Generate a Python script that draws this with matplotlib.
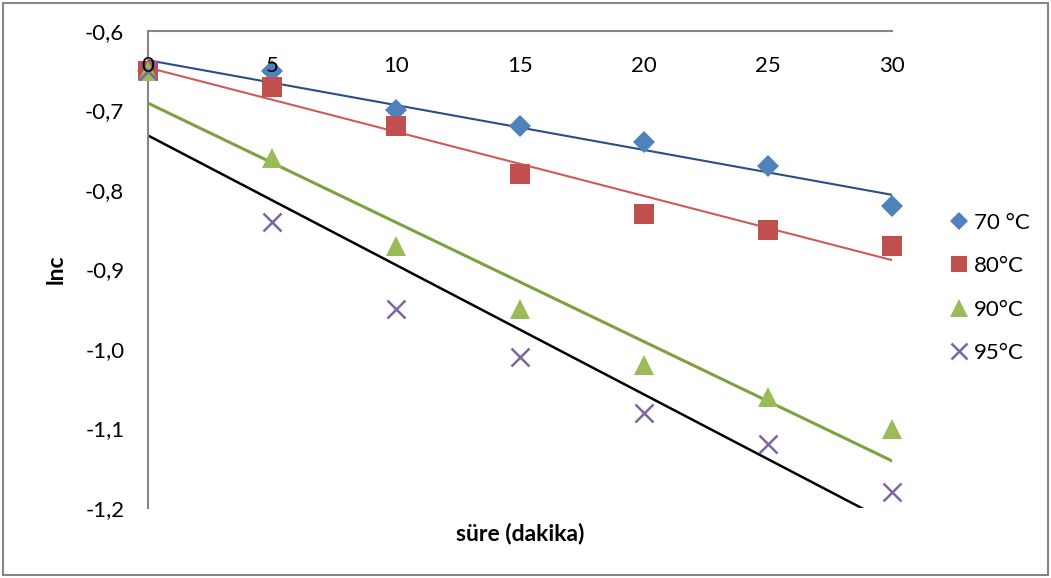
import numpy as np
import matplotlib
matplotlib.use("Agg")
import matplotlib.pyplot as plt
from matplotlib.patches import Rectangle

plt.rcParams['font.family'] = ['Lato', 'DejaVu Sans']

sure = [0, 5, 10, 15, 20, 25, 30]
lnc_70 = [-0.65, -0.65, -0.70, -0.72, -0.74, -0.77, -0.82]
lnc_80 = [-0.65, -0.67, -0.72, -0.78, -0.83, -0.85, -0.87]
lnc_90 = [-0.65, -0.76, -0.87, -0.95, -1.02, -1.06, -1.10]
lnc_95 = [-0.65, -0.84, -0.95, -1.01, -1.08, -1.12, -1.18]
labels = ['70 °C', '80°C', '90°C', '95°C']
yticks = [-0.6, -0.7, -0.8, -0.9, -1.0, -1.1, -1.2]

series = [
    (lnc_70, 'D', 11, '#4F81BD', '#2C4D87', 1.5),
    (lnc_80, 's', 14, '#C0504D', '#CF5B57', 1.5),
    (lnc_90, '^', 15, '#9BBB59', '#7FA041', 2.2),
    (lnc_95, 'x', 13, '#8064A2', 'black', 1.8),
]

fig = plt.figure(figsize=(10.51, 5.78), dpi=100)
ax = fig.add_axes([0.1408, 0.1211, 0.7079, 0.8253])

xs = np.array(sure, dtype=float)
for (vals, mk, ms, col, lcol, lw), lab in zip(series, labels):
    # lineer trend cizgisi
    k, b = np.polyfit(xs, vals, 1)
    ax.plot(xs, k * xs + b, color=lcol, lw=lw, zorder=2)
    if mk == 'x':
        ax.plot(sure, vals, linestyle='none', marker=mk, ms=ms, mew=1.8,
                color=col, label=lab, clip_on=False, zorder=3)
    else:
        ax.plot(sure, vals, linestyle='none', marker=mk, ms=ms, mew=0,
                color=col, label=lab, clip_on=False, zorder=3)

ax.set_xlim(0, 30)
ax.set_ylim(-1.2, -0.6)
ax.set_xticks(sure)
ax.set_yticks(yticks)
ax.set_yticklabels([f'{v:.1f}'.replace('.', ',') for v in yticks])

for s in ['right', 'top']:
    ax.spines[s].set_visible(False)
ax.spines['bottom'].set_position(('data', -0.6))
ax.spines['bottom'].set_color('#868686')
ax.spines['left'].set_color('#868686')
ax.spines['bottom'].set_linewidth(1.5)
ax.spines['left'].set_linewidth(1.5)
ax.tick_params(axis='x', length=0, pad=18, labelsize=16)
ax.tick_params(axis='y', length=0, pad=17, labelsize=16)
ax.xaxis.set_zorder(5)

ax.set_xlabel('süre (dakika)', fontsize=16.5, fontweight='bold')
ax.xaxis.set_label_coords(0.5, -0.03)
ax.set_ylabel('lnc', fontsize=16.5, fontweight='bold')
ax.yaxis.set_label_coords(-0.11, 0.5)

fig.legend(loc='center left', bbox_to_anchor=(0.897, 0.502), frameon=False,
           fontsize=16, handlelength=0.7, handletextpad=0.3, labelspacing=1.05,
           borderaxespad=0, markerscale=0.85)

fig.patches.append(Rectangle((3 / 1051, 3 / 578), 1045 / 1051, 572 / 578,
                             transform=fig.transFigure, fill=False,
                             edgecolor='#868686', lw=1.5))

fig.savefig('out.png', dpi=100)
